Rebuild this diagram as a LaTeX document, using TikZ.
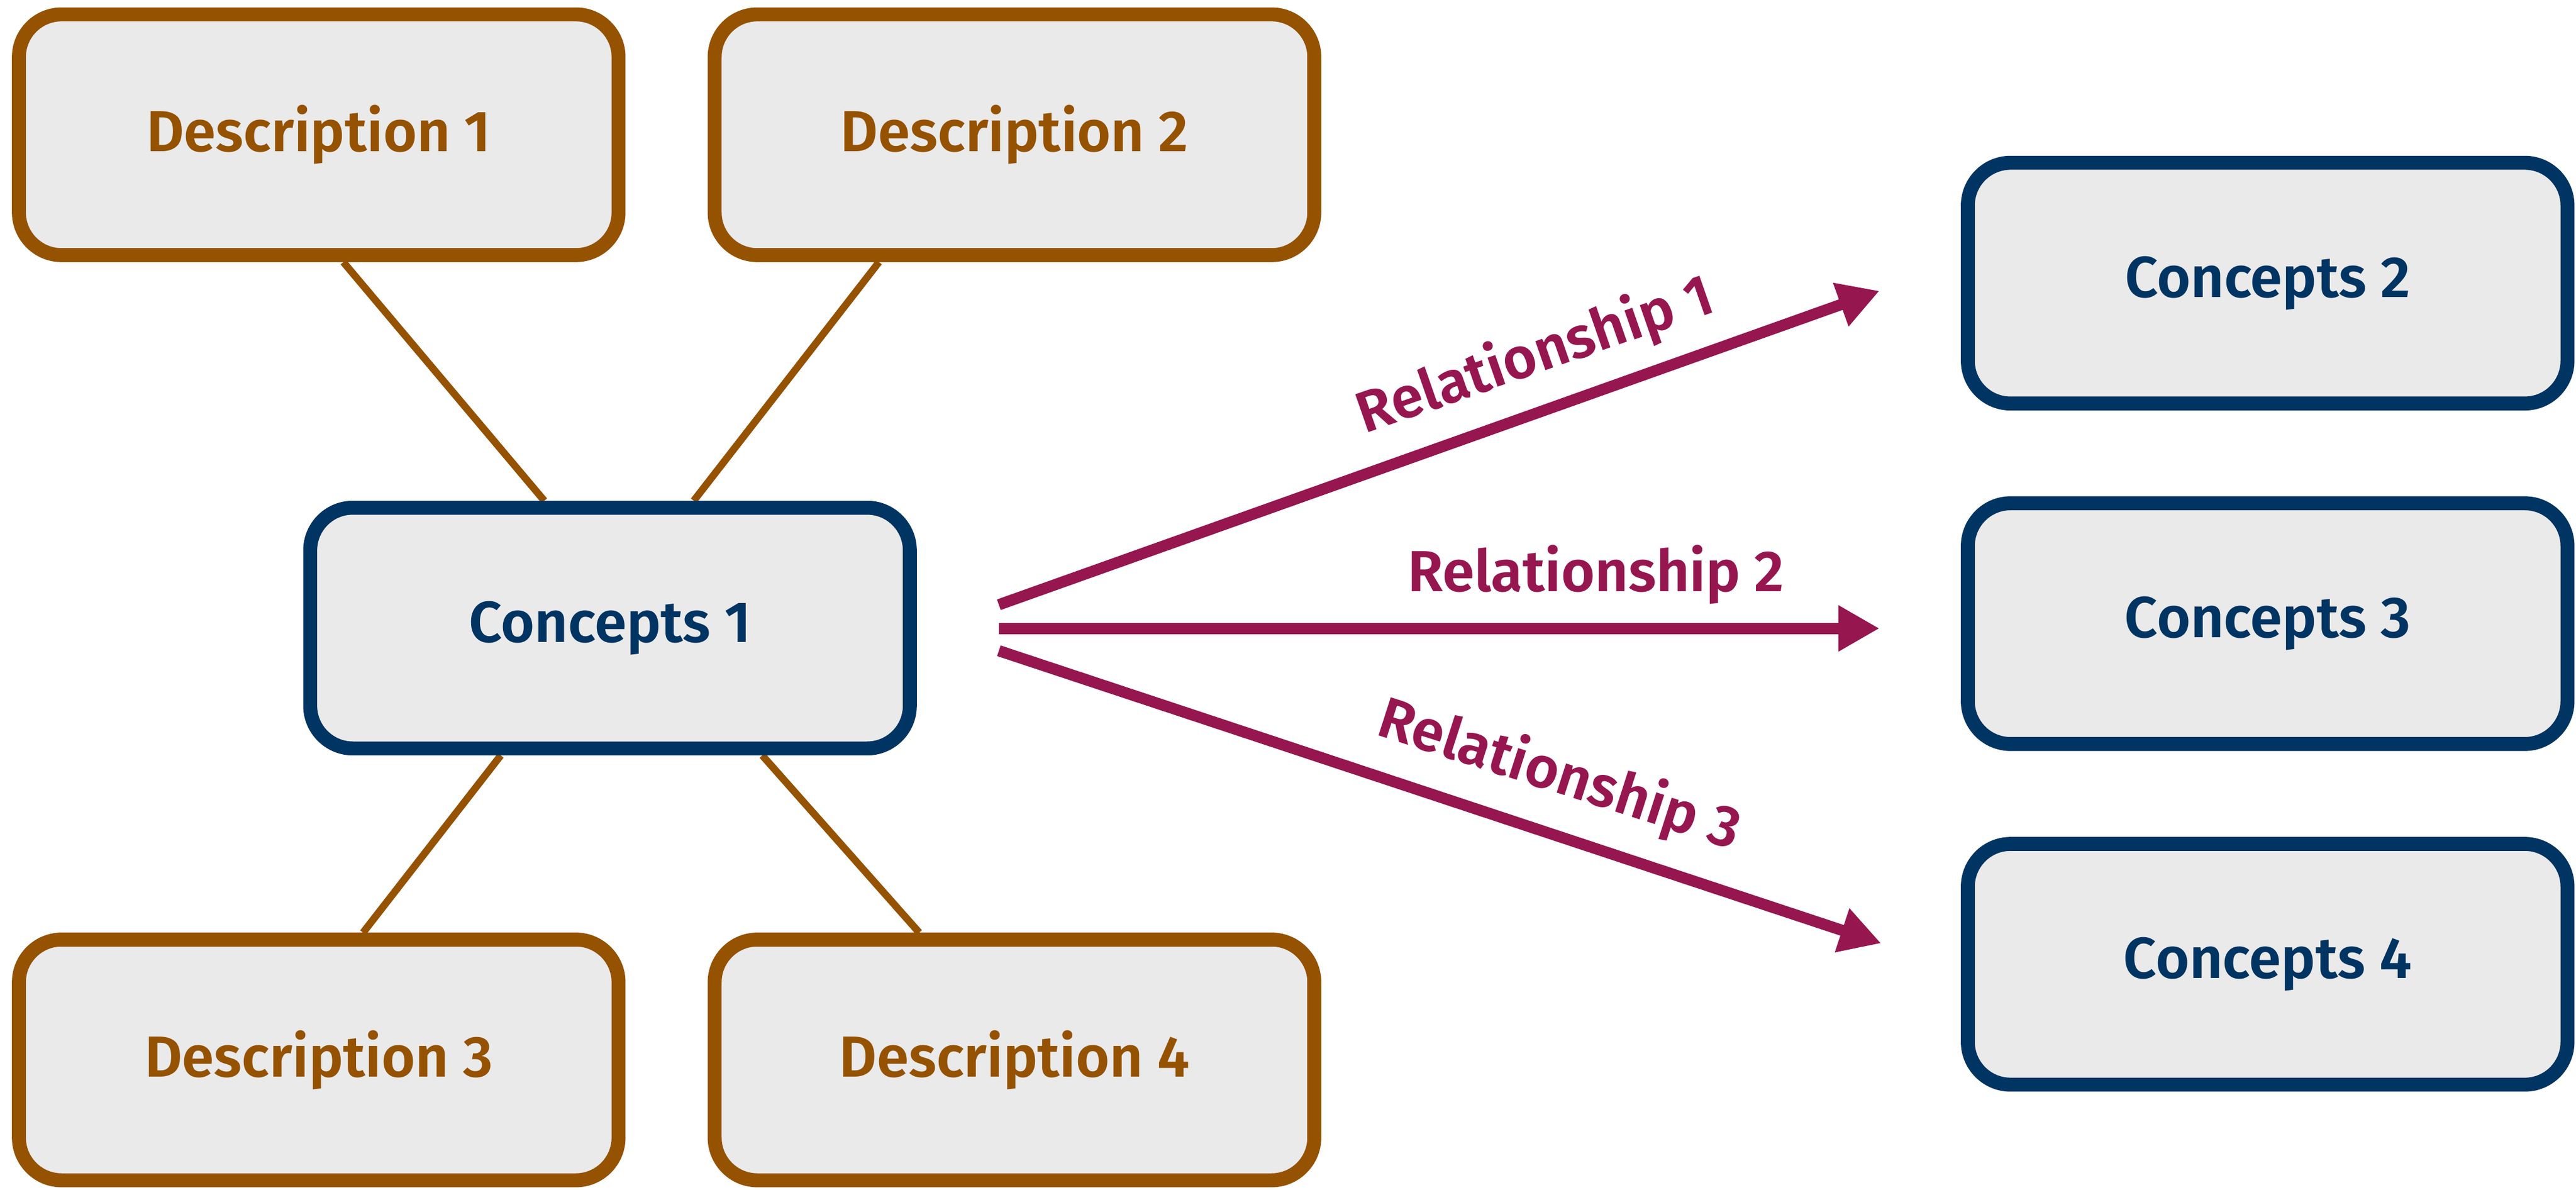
\documentclass[tikz,border=0pt]{standalone}
\usepackage{fontspec}
\setmainfont{Fira Sans SemiBold}
\usetikzlibrary{arrows.meta,calc,backgrounds}
\definecolor{descbrown}{HTML}{955200}
\definecolor{connavy}{HTML}{003462}
\definecolor{relmag}{HTML}{961650}
\definecolor{boxfill}{HTML}{EAEAEA}
\begin{document}
\begin{tikzpicture}[x=0.5pt,y=-0.5pt,
  box/.style={rectangle, rounded corners=13pt, fill=boxfill, line width=4.25pt,
    minimum width=182.5pt, minimum height=73.25pt, inner sep=0pt,
    font=\fontsize{17.6pt}{21pt}\selectfont},
  descbox/.style={box, draw=descbrown, text=descbrown},
  conbox/.style={box, draw=connavy, text=connavy},
  link/.style={draw=descbrown, line width=2.2pt},
  rel/.style={draw=relmag, line width=3.4pt, -{Triangle[length=12.5pt,width=13.2pt]}},
  rellabel/.style={text=relmag, anchor=base, inner sep=0pt,
    font=\fontsize{17.6pt}{21pt}\selectfont}]
\useasboundingbox (0,0) rectangle (1568,723.8);

\node[descbox] (d1) at (194,82) {Description 1};
\node[descbox] (d2) at (617.5,82) {Description 2};
\node[descbox] (d3) at (194,645) {Description 3};
\node[descbox] (d4) at (617.5,645) {Description 4};

\node[conbox] (c1) at (371.3,382.2) {Concepts 1};
\node[conbox] (c2) at (1380.3,172.3) {Concepts 2};
\node[conbox] (c3) at (1380.3,379.5) {Concepts 3};
\node[conbox] (c4) at (1380.3,586.8) {Concepts 4};

\begin{scope}[on background layer]
  \draw[link] ($(d1.south)+(15,0)$) -- ($(c1.north)+(-40,0)$);
  \draw[link] ($(d2.south)+(-82.5,0)$) -- ($(c1.north)+(51,0)$);
  \draw[link] ($(d3.north)+(27,0)$) -- ($(c1.south)+(-66.5,0)$);
  \draw[link] ($(d4.north)+(-58,0)$) -- ($(c1.south)+(92.7,0)$);
\end{scope}

\coordinate (s1) at (608,368);
\coordinate (t1) at (1144,177);
\coordinate (s2) at (608,382.4);
\coordinate (t2) at (1144,382.4);
\coordinate (s3) at (608,396);
\coordinate (t3) at (1145,574);

\draw[rel] (s1) -- (t1);
\draw[rel] (s2) -- (t2);
\draw[rel] (s3) -- (t3);

\node[rellabel, rotate=19.2] (l1) at (938,226.5) {Relationship 1};
\node[rellabel] (l2) at (971.5,360) {Relationship 2};
\node[rellabel, rotate=-17.8] (l3) at (946,482) {Relationship 3};
\end{tikzpicture}
\end{document}
